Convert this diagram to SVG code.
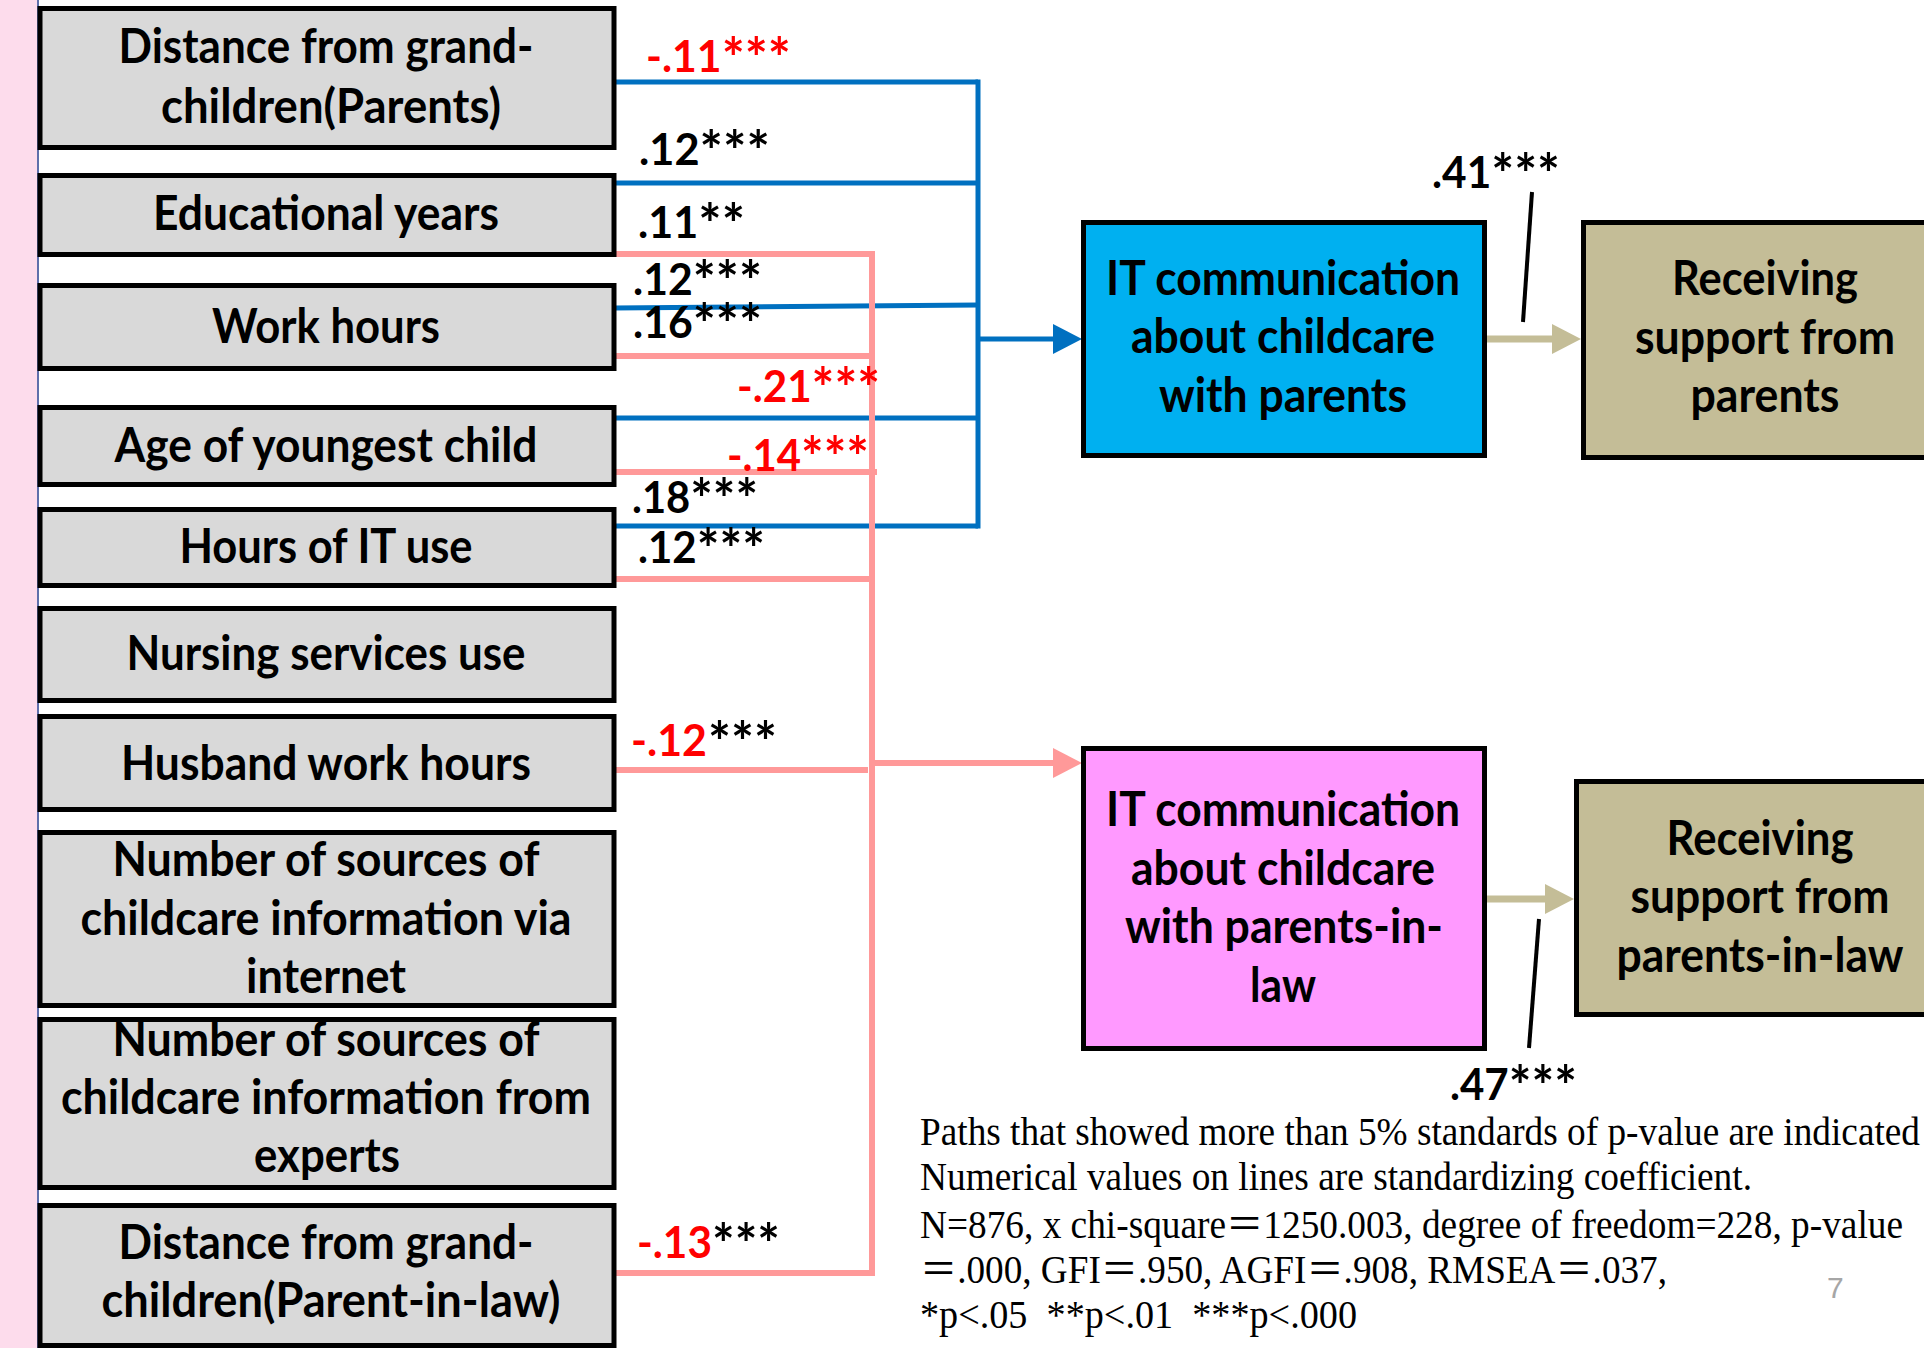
<svg xmlns="http://www.w3.org/2000/svg" width="1924" height="1348" viewBox="0 0 1924 1348">
<style>
.box{fill:#D9D9D9;stroke:#000;stroke-width:5}
.bt{font-family:Lato,"Liberation Sans",sans-serif;font-weight:700;font-size:48px;fill:#000;text-anchor:middle}
.lb{font-family:Lato,"Liberation Sans",sans-serif;font-weight:700;font-size:44px;fill:#000}
.st{font-size:56px}
.red{fill:#FF0000}
.blue{fill:none;stroke:#0070C0;stroke-width:5}
.pink{fill:none;stroke:#FF9999;stroke-width:6}
.tan{fill:none;stroke:#C4BD97;stroke-width:7}
.note{font-family:"Liberation Serif","Noto Sans CJK JP",serif;font-size:40px;fill:#000}
</style>
<defs>
<marker id="ahBlue" markerUnits="userSpaceOnUse" viewBox="0 0 29 30" markerWidth="29" markerHeight="30" refX="5" refY="15" orient="auto"><path d="M0,0 L29,15 L0,30 z" fill="#0070C0"/></marker>
<marker id="ahPink" markerUnits="userSpaceOnUse" viewBox="0 0 29 30" markerWidth="29" markerHeight="30" refX="5" refY="15" orient="auto"><path d="M0,0 L29,15 L0,30 z" fill="#FF9999"/></marker>
<marker id="ahTan" markerUnits="userSpaceOnUse" viewBox="0 0 29 30" markerWidth="29" markerHeight="30" refX="5" refY="15" orient="auto"><path d="M0,0 L29,15 L0,30 z" fill="#C4BD97"/></marker>
</defs>
<rect x="0" y="0" width="1924" height="1348" fill="#FFFFFF"/>
<rect x="0" y="0" width="37" height="1348" fill="#FDDCEC"/>
<line x1="38" y1="0" x2="38" y2="1348" stroke="#2A3F8F" stroke-width="1.5"/>

<g id="connectors">
<path class="blue" d="M614,82 H978"/>
<path class="blue" d="M614,183 H978"/>
<path class="blue" d="M614,308 L978,305"/>
<path class="blue" d="M614,418 H978"/>
<path class="blue" d="M614,526 H978"/>
<path class="blue" d="M978,79.5 V528.5"/>
<path class="blue" stroke-width="7" d="M978,339 H1058" marker-end="url(#ahBlue)"/>
<path class="pink" d="M612,254 H872"/>
<path class="pink" d="M606,356 H869"/>
<path class="pink" d="M610,472 H877"/>
<path class="pink" d="M610,579 H872"/>
<path class="pink" d="M606,770 H868"/>
<path class="pink" d="M613,1273 H875"/>
<path class="pink" d="M872,251 V1276"/>
<path class="pink" stroke-width="7" d="M872,763 H1058" marker-end="url(#ahPink)"/>
<path class="tan" d="M1487,339 H1557" marker-end="url(#ahTan)"/>
<path class="tan" d="M1487,899 H1550" marker-end="url(#ahTan)"/>
<line x1="1532" y1="192" x2="1523" y2="322" stroke="#000" stroke-width="4"/>
<line x1="1539" y1="919" x2="1529" y2="1048" stroke="#000" stroke-width="4"/>
</g>

<g id="labels">
<text class="lb red" x="646" y="72" textLength="145" lengthAdjust="spacingAndGlyphs">-.11<tspan class="st" dy="6">***</tspan></text>
<text class="lb" x="639" y="165" textLength="131" lengthAdjust="spacingAndGlyphs">.12<tspan class="st" dy="6">***</tspan></text>
<text class="lb" x="638" y="238" textLength="107" lengthAdjust="spacingAndGlyphs">.11<tspan class="st" dy="6">**</tspan></text>
<text class="lb" x="633" y="295" textLength="129" lengthAdjust="spacingAndGlyphs">.12<tspan class="st" dy="6">***</tspan></text>
<text class="lb" x="633" y="338" textLength="129" lengthAdjust="spacingAndGlyphs">.16<tspan class="st" dy="6">***</tspan></text>
<text class="lb red" x="737" y="402" textLength="143" lengthAdjust="spacingAndGlyphs">-.21<tspan class="st" dy="6">***</tspan></text>
<text class="lb red" x="727" y="471" textLength="142" lengthAdjust="spacingAndGlyphs">-.14<tspan class="st" dy="6">***</tspan></text>
<text class="lb" x="632" y="513" textLength="126" lengthAdjust="spacingAndGlyphs">.18<tspan class="st" dy="6">***</tspan></text>
<text class="lb" x="638" y="563" textLength="127" lengthAdjust="spacingAndGlyphs">.12<tspan class="st" dy="6">***</tspan></text>
<text class="lb red" x="631" y="756" textLength="76" lengthAdjust="spacingAndGlyphs">-.12</text>
<text class="lb st" x="708" y="762" textLength="69" lengthAdjust="spacingAndGlyphs">***</text>
<text class="lb red" x="637" y="1258" textLength="75" lengthAdjust="spacingAndGlyphs">-.13</text>
<text class="lb st" x="712" y="1264" textLength="68" lengthAdjust="spacingAndGlyphs">***</text>
<text class="lb" x="1432" y="188" textLength="128" lengthAdjust="spacingAndGlyphs">.41<tspan class="st" dy="6">***</tspan></text>
<text class="lb" x="1450" y="1100" textLength="127" lengthAdjust="spacingAndGlyphs">.47<tspan class="st" dy="6">***</tspan></text>
</g>

<g id="n1"><rect class="box" x="40" y="8.5" width="574" height="139"/>
<text class="bt" x="326" y="63" textLength="415" lengthAdjust="spacingAndGlyphs">Distance from grand-</text>
<text class="bt" x="331" y="123" textLength="340" lengthAdjust="spacingAndGlyphs">children(Parents)</text></g>
<g id="n2"><rect class="box" x="40" y="175.5" width="574" height="79"/>
<text class="bt" x="326" y="230" textLength="346" lengthAdjust="spacingAndGlyphs">Educational years</text></g>
<g id="n3"><rect class="box" x="40" y="285.5" width="574" height="83"/>
<text class="bt" x="326" y="343" textLength="228" lengthAdjust="spacingAndGlyphs">Work hours</text></g>
<g id="n4"><rect class="box" x="40" y="407.5" width="574" height="77"/>
<text class="bt" x="326" y="462" textLength="423" lengthAdjust="spacingAndGlyphs">Age of youngest child</text></g>
<g id="n5"><rect class="box" x="40" y="509.5" width="574" height="76"/>
<text class="bt" x="326" y="563" textLength="293" lengthAdjust="spacingAndGlyphs">Hours of IT use</text></g>
<g id="n6"><rect class="box" x="40" y="608.5" width="574" height="92"/>
<text class="bt" x="326" y="670" textLength="399" lengthAdjust="spacingAndGlyphs">Nursing services use</text></g>
<g id="n7"><rect class="box" x="40" y="716.5" width="574" height="93"/>
<text class="bt" x="326" y="780" textLength="410" lengthAdjust="spacingAndGlyphs">Husband work hours</text></g>
<g id="n8"><rect class="box" x="40" y="832.5" width="574" height="173"/>
<text class="bt" x="326" y="876" textLength="427" lengthAdjust="spacingAndGlyphs">Number of sources of</text>
<text class="bt" x="326" y="935" textLength="491" lengthAdjust="spacingAndGlyphs">childcare information via</text>
<text class="bt" x="326" y="993" textLength="160" lengthAdjust="spacingAndGlyphs">internet</text></g>
<g id="n9"><rect class="box" x="40" y="1019.5" width="574" height="168"/>
<text class="bt" x="326" y="1056" textLength="427" lengthAdjust="spacingAndGlyphs">Number of sources of</text>
<text class="bt" x="326" y="1114" textLength="530" lengthAdjust="spacingAndGlyphs">childcare information from</text>
<text class="bt" x="327" y="1172" textLength="146" lengthAdjust="spacingAndGlyphs">experts</text></g>
<g id="n10"><rect class="box" x="40" y="1205.5" width="574" height="140"/>
<text class="bt" x="326" y="1259" textLength="415" lengthAdjust="spacingAndGlyphs">Distance from grand-</text>
<text class="bt" x="331" y="1317" textLength="459" lengthAdjust="spacingAndGlyphs">children(Parent-in-law)</text></g>

<g id="itParents"><rect x="1083.5" y="222.5" width="401" height="233" fill="#00B0F0" stroke="#000" stroke-width="5"/>
<text class="bt" x="1283" y="295" textLength="354" lengthAdjust="spacingAndGlyphs">IT communication</text>
<text class="bt" x="1283" y="353" textLength="304" lengthAdjust="spacingAndGlyphs">about childcare</text>
<text class="bt" x="1283" y="412" textLength="248" lengthAdjust="spacingAndGlyphs">with parents</text></g>
<g id="supParents"><rect x="1583.5" y="222.5" width="400" height="235" fill="#C4BD97" stroke="#000" stroke-width="5"/>
<text class="bt" x="1765" y="295" textLength="186" lengthAdjust="spacingAndGlyphs">Receiving</text>
<text class="bt" x="1765" y="354" textLength="260" lengthAdjust="spacingAndGlyphs">support from</text>
<text class="bt" x="1765" y="412" textLength="149" lengthAdjust="spacingAndGlyphs">parents</text></g>
<g id="itInLaw"><rect x="1083.5" y="748.5" width="401" height="300" fill="#FF99FF" stroke="#000" stroke-width="5"/>
<text class="bt" x="1283" y="826" textLength="354" lengthAdjust="spacingAndGlyphs">IT communication</text>
<text class="bt" x="1283" y="885" textLength="304" lengthAdjust="spacingAndGlyphs">about childcare</text>
<text class="bt" x="1284" y="943" textLength="318" lengthAdjust="spacingAndGlyphs">with parents-in-</text>
<text class="bt" x="1283" y="1002" textLength="66" lengthAdjust="spacingAndGlyphs">law</text></g>
<g id="supInLaw"><rect x="1576.5" y="781.5" width="400" height="233" fill="#C4BD97" stroke="#000" stroke-width="5"/>
<text class="bt" x="1760" y="855" textLength="187" lengthAdjust="spacingAndGlyphs">Receiving</text>
<text class="bt" x="1760" y="913" textLength="259" lengthAdjust="spacingAndGlyphs">support from</text>
<text class="bt" x="1760" y="972" textLength="287" lengthAdjust="spacingAndGlyphs">parents-in-law</text></g>

<g id="notes">
<text class="note" x="920" y="1145" textLength="1000" lengthAdjust="spacingAndGlyphs">Paths that showed more than 5% standards of p-value are indicated</text>
<text class="note" x="920" y="1190" textLength="832" lengthAdjust="spacingAndGlyphs">Numerical values on lines are standardizing coefficient.</text>
<text class="note" x="920" y="1238" textLength="983" lengthAdjust="spacingAndGlyphs">N=876, x chi-square＝1250.003, degree of freedom=228, p-value</text>
<text class="note" x="920" y="1283" textLength="747" lengthAdjust="spacingAndGlyphs">＝.000, GFI＝.950, AGFI＝.908, RMSEA＝.037,</text>
<text class="note" x="920" y="1328" textLength="437" lengthAdjust="spacingAndGlyphs" xml:space="preserve">*p&lt;.05  **p&lt;.01  ***p&lt;.000</text>
<text x="1827" y="1298" font-family="'Liberation Sans',sans-serif" font-size="30" fill="#A6A6A6">7</text>
</g>
</svg>
